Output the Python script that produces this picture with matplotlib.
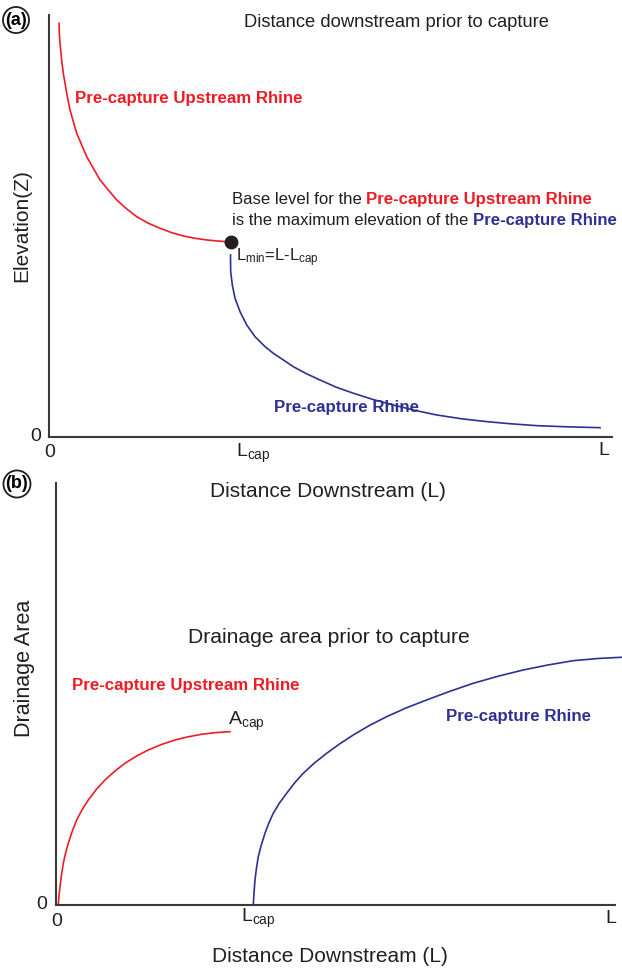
import matplotlib
matplotlib.use('Agg')
import matplotlib.pyplot as plt

plt.rcParams['font.family'] = ['Liberation Sans', 'DejaVu Sans']
plt.rcParams['mathtext.fontset'] = 'custom'
plt.rcParams['mathtext.rm'] = 'Liberation Sans'
plt.rcParams['mathtext.it'] = 'Liberation Sans:italic'

# distance downstream as fraction of L, elevation / area as fraction of axis height
l_cap = 0.3227
z_cap = 0.463

# (a) long profiles
up_x = [0.0178, 0.0183, 0.0195, 0.0213, 0.0231, 0.0254, 0.0284, 0.0325, 0.0373,
        0.0432, 0.0492, 0.0581, 0.0670, 0.0787, 0.0906, 0.1053, 0.1202, 0.1380,
        0.1558, 0.1764, 0.1972, 0.2179, 0.2385, 0.2593, 0.2801, 0.2979, 0.3156, 0.3227]
up_z = [0.9803, 0.9566, 0.9329, 0.9092, 0.8855, 0.8618, 0.8382, 0.8064, 0.7749,
        0.7472, 0.7197, 0.6919, 0.6642, 0.6367, 0.6090, 0.5853, 0.5616, 0.5403,
        0.5220, 0.5064, 0.4945, 0.4841, 0.4763, 0.4708, 0.4668, 0.4645, 0.4628, 0.463]
rh_x = [0.3224, 0.3227, 0.3256, 0.3304, 0.3393, 0.3512, 0.3659, 0.3837, 0.3984,
        0.4339, 0.457, 0.4813, 0.510, 0.5405, 0.575, 0.6115, 0.650, 0.6886,
        0.733, 0.7774, 0.822, 0.8663, 0.920, 0.9787]
rh_z = [0.4313, 0.3917, 0.3602, 0.3287, 0.2969, 0.2654, 0.2377, 0.2140, 0.1983,
        0.1666, 0.150, 0.135, 0.118, 0.1036, 0.089, 0.0758, 0.063, 0.0521,
        0.043, 0.0363, 0.031, 0.0268, 0.024, 0.022]

# (b) drainage area
up_ax = [0.0041, 0.0054, 0.0072, 0.0098, 0.0131, 0.0172, 0.0220, 0.0290, 0.0370,
         0.0469, 0.0578, 0.0721, 0.0877, 0.1050, 0.1234, 0.1438, 0.1651, 0.1887,
         0.2129, 0.2367, 0.2606, 0.2859, 0.3113]
up_a = [0.0, 0.0213, 0.0434, 0.0711, 0.0988, 0.1232, 0.1462, 0.1742, 0.2014,
        0.2263, 0.2488, 0.2737, 0.2962, 0.3168, 0.3358, 0.3526, 0.3673, 0.3803,
        0.3910, 0.3986, 0.4045, 0.4085, 0.4107]
rh_ax = [0.353, 0.354, 0.356, 0.3587, 0.3619, 0.3673, 0.3739, 0.3807, 0.3887,
         0.3998, 0.4127, 0.4267, 0.4424, 0.4624, 0.4843, 0.5072, 0.5318, 0.5608,
         0.5916, 0.6261, 0.6631, 0.704, 0.7465, 0.7907, 0.836, 0.8801, 0.9254,
         0.9696, 1.0125]
rh_a = [0.0, 0.0237, 0.0592, 0.0877, 0.1145, 0.142, 0.1699, 0.194, 0.2173,
        0.2417, 0.2647, 0.289, 0.3121, 0.3365, 0.3595, 0.3815, 0.4028, 0.4254,
        0.4462, 0.4668, 0.4858, 0.506, 0.5253, 0.542, 0.5569, 0.5687, 0.5789,
        0.5841, 0.587]

red = '#ee1c24'
blue = '#2e3192'
ink = '#231f20'

fig = plt.figure(figsize=(6.22, 9.71), dpi=100)
ax1 = fig.add_axes([0.0788, 0.5500, 0.9051, 0.4346])
ax2 = fig.add_axes([0.0900, 0.0680, 0.8987, 0.4346])

for ax in (ax1, ax2):
    ax.set_xlim(0, 1)
    ax.set_ylim(0, 1)
    ax.set_xticks([])
    ax.set_yticks([])
    ax.patch.set_visible(False)
    for s in ['top', 'right']:
        ax.spines[s].set_visible(False)
    for s in ['left', 'bottom']:
        ax.spines[s].set_color('#3a3a3a')
        ax.spines[s].set_linewidth(1.5)

circ = dict(boxstyle='circle,pad=0.12', fc='white', ec=ink, lw=1.3)

# ---- panel (a)
ax1.plot(up_x, up_z, color=red, lw=1.2, solid_joinstyle='round')
ax1.plot(rh_x, rh_z, color=blue, lw=1.2, solid_joinstyle='round')
ax1.plot([l_cap], [z_cap], 'o', color=ink, ms=9, zorder=5)

ax1.text(-0.0586, 0.988, '(a)', fontsize=13, fontweight='bold', ha='center', va='center',
         bbox=circ, clip_on=False)
ax1.text(0.618, 0.983, 'Distance downstream prior to capture', fontsize=13.2,
         color=ink, ha='center', va='center')
ax1.text(0.046, 0.801, 'Pre-capture Upstream Rhine', fontsize=12.2, fontweight='bold',
         color=red, ha='left', va='center')
t1 = ax1.text(0.325, 0.562, 'Base level for the ', fontsize=12.1, color=ink,
              ha='left', va='center')
ax1.annotate('Pre-capture Upstream Rhine', xy=(1, 0), xycoords=t1, fontsize=12.1,
             fontweight='bold', color=red, ha='left', va='bottom')
t2 = ax1.text(0.325, 0.512, 'is the maximum elevation of the ', fontsize=12.1, color=ink,
              ha='left', va='center')
ax1.annotate('Pre-capture Rhine', xy=(1, 0), xycoords=t2, fontsize=12.1,
             fontweight='bold', color=blue, ha='left', va='bottom')
ax1.text(0.332, 0.424, r'L$_{\rm min}$=L-L$_{\rm cap}$', fontsize=12, color=ink,
         ha='left', va='center')
ax1.text(0.40, 0.069, 'Pre-capture Rhine', fontsize=12.2, fontweight='bold',
         color=blue, ha='left', va='center')

ax1.text(-0.0142, 0.0, '0', fontsize=14, color=ink, ha='right', va='center', clip_on=False)
ax1.text(0.0018, -0.036, '0', fontsize=14, color=ink, ha='center', va='center')
ax1.text(0.332, -0.047, r'L$_{\rm cap}$', fontsize=14, color=ink, ha='left', va='baseline')
ax1.text(0.986, -0.031, 'L', fontsize=14, color=ink, ha='center', va='center')
ax1.text(0.4956, -0.130, 'Distance Downstream (L)', fontsize=15, color=ink,
         ha='center', va='center')
ax1.text(-0.048, 0.50, 'Elevation(Z)', fontsize=15, color=ink, rotation=90,
         ha='center', va='center')

# ---- panel (b)
ax2.plot(up_ax, up_a, color=red, lw=1.2, solid_joinstyle='round')
ax2.plot(rh_ax, rh_a, color=blue, lw=1.2, solid_joinstyle='round', clip_on=False)

ax2.text(-0.0698, 0.9976, '(b)', fontsize=13, fontweight='bold', ha='center', va='center',
         bbox=circ, clip_on=False)
ax2.text(0.4884, 0.635, 'Drainage area prior to capture', fontsize=15.2, color=ink,
         ha='center', va='center')
ax2.text(0.0286, 0.519, 'Pre-capture Upstream Rhine', fontsize=12.2, fontweight='bold',
         color=red, ha='left', va='center')
ax2.text(0.3077, 0.4265, r'A$_{\rm cap}$', fontsize=14, color=ink, ha='left', va='baseline')
ax2.text(0.6977, 0.4455, 'Pre-capture Rhine', fontsize=12.2, fontweight='bold',
         color=blue, ha='left', va='center')

ax2.text(-0.016, 0.0, '0', fontsize=14, color=ink, ha='right', va='center', clip_on=False)
ax2.text(0.002, -0.040, '0', fontsize=14, color=ink, ha='center', va='center')
ax2.text(0.331, -0.040, r'L$_{\rm cap}$', fontsize=14, color=ink, ha='left', va='baseline')
ax2.text(0.993, -0.031, 'L', fontsize=14, color=ink, ha='center', va='center')
ax2.text(0.49, -0.121, 'Distance Downstream (L)', fontsize=15, color=ink,
         ha='center', va='center')
ax2.text(-0.0572, 0.5616, 'Drainage Area', fontsize=15.5, color=ink, rotation=90,
         ha='center', va='center')

fig.savefig('out.png', dpi=100)
